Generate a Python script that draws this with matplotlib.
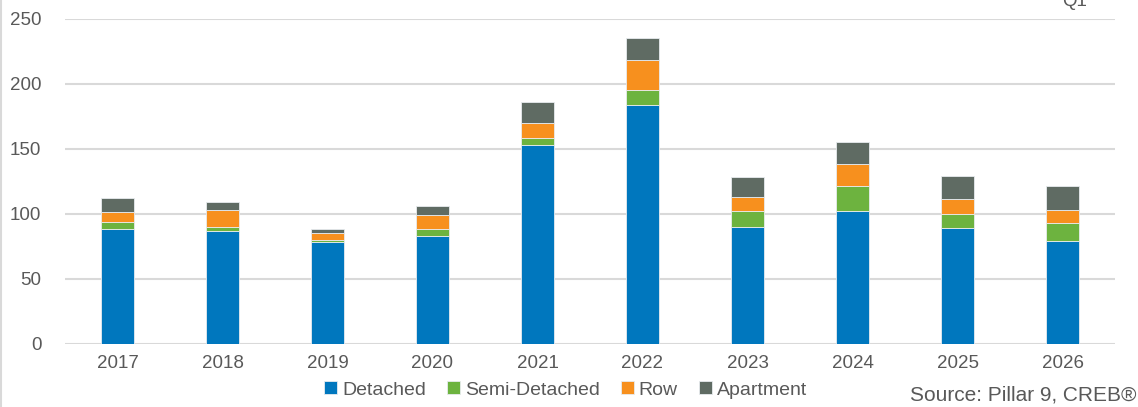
import numpy as np
import matplotlib
matplotlib.use("Agg")
import matplotlib.pyplot as plt

plt.rcParams["font.family"] = ["Liberation Sans", "DejaVu Sans"]

years = ["2017", "2018", "2019", "2020", "2021", "2022", "2023", "2024", "2025", "2026"]
detached = [88, 87, 78, 83, 153, 184, 90, 102, 89, 79]
semi_detached = [6, 3, 2, 5, 5, 11, 12, 19, 11, 14]
row = [7, 13, 5, 11, 12, 23, 11, 17, 11, 10]
apartment = [11, 6, 3, 7, 16, 17, 15, 17, 18, 18]

series = [
    ("Detached", detached, "#0077BE"),
    ("Semi-Detached", semi_detached, "#6DB33F"),
    ("Row", row, "#F7901E"),
    ("Apartment", apartment, "#5F6B63"),
]

text_color = "#595959"

fig = plt.figure(figsize=(11.38, 4.07), dpi=100)
ax = fig.add_axes([0.0571, 0.1555, 0.9227, 0.7985])

x = np.arange(len(years))
bottom = np.zeros(len(years))
for name, vals, col in series:
    ax.bar(x, vals, width=0.32, bottom=bottom, color=col, label=name,
           edgecolor="#e8ecef", linewidth=0.6, zorder=3)
    bottom += np.array(vals)

ax.set_xlim(-0.5, len(years) - 0.5)
ax.set_ylim(0, 250)
ax.set_yticks([0, 50, 100, 150, 200, 250])
ax.set_xticks(x)
ax.set_xticklabels(years)
ax.grid(axis="y", color="#D9D9D9", linewidth=1.5, zorder=0)
ax.tick_params(length=0, labelsize=13.5, colors=text_color, pad=8)
ax.tick_params(axis="y", pad=17)
for s in ax.spines.values():
    s.set_visible(False)

leg = fig.legend(loc="center", bbox_to_anchor=(0.497, 0.042), ncol=4, frameon=False,
                 fontsize=14, handlelength=0.65, handleheight=0.65, handletextpad=0.25,
                 columnspacing=1.1, labelcolor=text_color)

fig.text(0.999, 0.03, "Source: Pillar 9, CREB®", ha="right", va="center",
         fontsize=15, color=text_color)
fig.text(0.944, 0.997, "Q1", ha="center", va="center", fontsize=13.5, color=text_color)

# left border line
fig.add_artist(plt.Line2D([0.001, 0.001], [0, 1], color="#D9D9D9", linewidth=1.5))

fig.savefig("out.png", dpi=100)
